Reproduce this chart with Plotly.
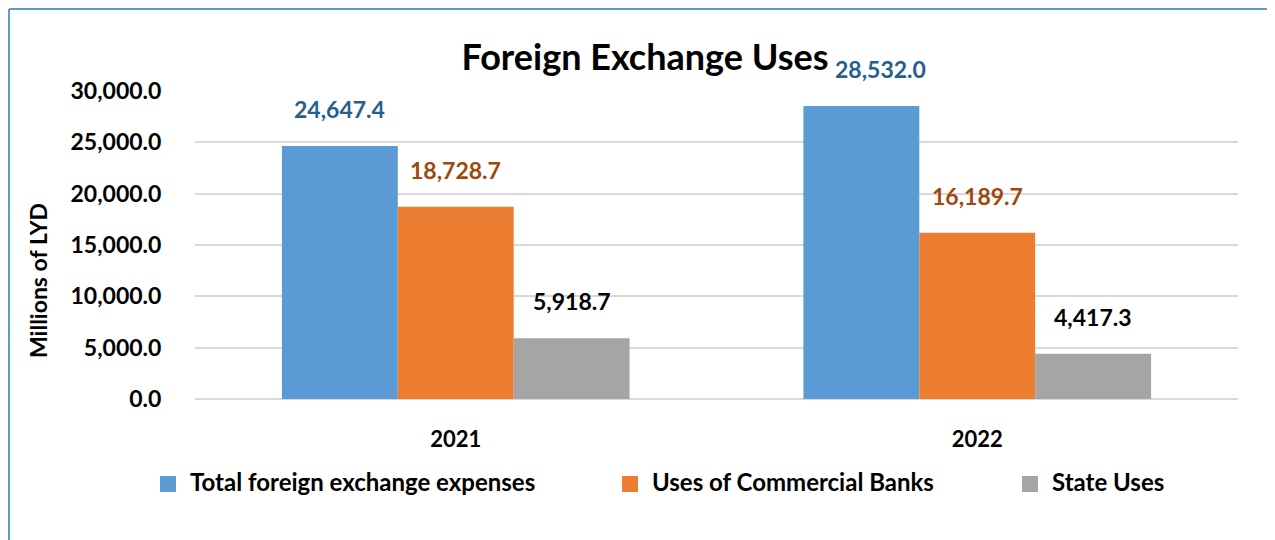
import plotly.graph_objects as go

categories = ["2021", "2022"]
series_names = ["Total foreign exchange expenses", "Uses of Commercial Banks", "State Uses"]
total_expenses = [24647.4, 28532.0]
commercial_banks = [18728.7, 16189.7]
state_uses = [5918.7, 4417.3]
y_ticks = [0, 5000, 10000, 15000, 20000, 25000, 30000]
y_tick_labels = ["0.0", "5,000.0", "10,000.0", "15,000.0", "20,000.0", "25,000.0", "30,000.0"]

series_values = [total_expenses, commercial_banks, state_uses]
bar_colors = ["#5B9BD5", "#ED7D31", "#A5A5A5"]
label_colors = ["#255E91", "#9E480E", "#000000"]

# page offset (browser body margin)
OFF = 8
W, H = 1275, 540
L, T = 195 - OFF, 91 - OFF
pw, ph = 1043, 308
R, B = W - L - pw, H - T - ph

def px(x):
    return (x - OFF - L) / pw

def py(y):
    return (H - B - (y - OFF)) / ph

FONT = "Lato"

fig = go.Figure()
for i, (name, vals) in enumerate(zip(series_names, series_values)):
    fig.add_trace(go.Bar(
        x=categories, y=vals, name=name,
        marker=dict(color=bar_colors[i], line=dict(width=0)),
        showlegend=False,
    ))

# data labels (x given as category index so numeric-looking names are not misread)
bar_w = pw / 2 * (1 - 1 / 3) / 3
xshifts = [-bar_w, 0, bar_w]
extra_x = {(0, 1): 19}
annotations = []
for i, vals in enumerate(series_values):
    for j, v in enumerate(vals):
        annotations.append(dict(
            x=j, y=v, xref="x", yref="y",
            text=f"{v:,.1f}", showarrow=False,
            xanchor="center", yanchor="middle",
            xshift=xshifts[i] + extra_x.get((i, j), 0), yshift=37,
            font=dict(family=FONT, size=23, color=label_colors[i], weight="bold"),
        ))

annotations.append(dict(
    x=px(38), y=py(281), xref="paper", yref="paper",
    xanchor="center", yanchor="middle",
    text="Millions of LYD", textangle=-90, showarrow=False,
    font=dict(family=FONT, size=23, color="#000000", weight="bold"),
))

# legend (drawn as swatches + text)
leg_sw_x = [160, 622, 1022]
leg_y = 484
sw = 16
shapes = []
for i, name in enumerate(series_names):
    shapes.append(dict(
        type="rect", xref="paper", yref="paper",
        x0=px(leg_sw_x[i]), x1=px(leg_sw_x[i] + sw),
        y0=py(leg_y - sw / 2), y1=py(leg_y + sw / 2),
        fillcolor=bar_colors[i], line=dict(width=0),
    ))
    annotations.append(dict(
        x=px(leg_sw_x[i] + sw + 12), y=py(leg_y - 3), xref="paper", yref="paper",
        xanchor="left", yanchor="middle", text=name, showarrow=False,
        font=dict(family=FONT, size=24, color="#000000", weight="bold"),
    ))

shapes += [
    dict(type="line", xref="paper", yref="paper",
         x0=px(OFF + 1), x1=px(OFF + 1), y0=py(OFF + 1), y1=py(600),
         line=dict(color="#5B9BD5", width=2)),
    dict(type="line", xref="paper", yref="paper",
         x0=px(OFF + 1), x1=px(1300), y0=py(OFF + 1), y1=py(OFF + 1),
         line=dict(color="#5B9BD5", width=2)),
]

fig.update_layout(
    width=W, height=H,
    margin=dict(l=L, r=R, t=T, b=B, autoexpand=False),
    paper_bgcolor="white", plot_bgcolor="white",
    barmode="group", bargap=1 / 3, bargroupgap=0,
    showlegend=False,
    title=dict(
        text="Foreign Exchange Uses", x=px(645), xanchor="center",
        xref="paper", y=1 - (57 - OFF) / H, yanchor="middle",
        font=dict(family=FONT, size=36, color="#000000", weight="bold"),
    ),
    xaxis=dict(
        type="category", automargin=False,
        showgrid=False, showline=False, zeroline=False,
        ticks="outside", ticklen=21, tickcolor="rgba(0,0,0,0)",
        tickfont=dict(family=FONT, size=22, color="#000000", weight="bold"),
    ),
    yaxis=dict(
        range=[0, 30000], tickvals=y_ticks, ticktext=y_tick_labels,
        automargin=False,
        showgrid=True, gridcolor="#D9D9D9", gridwidth=2,
        zeroline=True, zerolinecolor="#D9D9D9", zerolinewidth=2,
        showline=False, ticks="outside", ticklen=28, tickcolor="rgba(0,0,0,0)",
        tickfont=dict(family=FONT, size=23, color="#000000", weight="bold"),
    ),
    annotations=annotations,
    shapes=shapes,
)

fig.write_html("out.html")
